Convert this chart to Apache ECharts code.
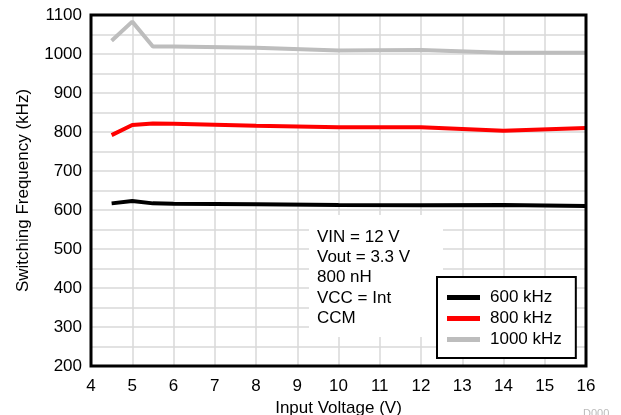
<!DOCTYPE html>
<html><head><meta charset="utf-8">
<script src="https://cdn.jsdelivr.net/npm/echarts@6/dist/echarts.min.js"></script>
<style>html,body{margin:0;padding:0;background:#fff}#c{width:621px;height:415px}</style>
</head><body><div id="c"></div>
<script>
const vin = [4.5, 5, 5.5, 6, 8, 10, 12, 14, 16];
const f600 = [617, 623, 617, 616, 615, 613, 612, 613, 610];
const f800 = [792, 818, 822, 821, 816, 812, 812, 803, 810];
const f1000 = [1034, 1083, 1019, 1019, 1016, 1009, 1010, 1003, 1003];
const seriesNames = ['600 kHz', '800 kHz', '1000 kHz'];
const colors = ['#000000', '#ff0000', '#bdbdbd'];
const noteLines = ['VIN = 12 V', 'Vout = 3.3 V', '800 nH', 'VCC = Int', 'CCM'];
const FONT = 'Liberation Sans, Arial, sans-serif';

const pairs = arr => vin.map((x, i) => [x, arr[i]]);
const chart = echarts.init(document.getElementById('c'));
chart.setOption({
  animation: false,
  textStyle: { fontFamily: FONT },
  grid: { left: 91, right: 35, top: 15, bottom: 49, show: true, borderColor: '#000', borderWidth: 3, z: 5,
          containLabel: false, outerBoundsMode: 'none' },
  xAxis: {
    type: 'value', min: 4, max: 16, interval: 1,
    name: 'Input Voltage (V)', nameLocation: 'middle', nameGap: 34,
    nameTextStyle: { fontSize: 17, color: '#000', fontFamily: FONT },
    axisLine: { show: false }, axisTick: { show: false },
    axisLabel: { fontSize: 17, color: '#000', margin: 12, fontFamily: FONT },
    splitLine: { show: true, lineStyle: { color: '#d9d9d9', width: 1.5 } }
  },
  yAxis: {
    type: 'value', min: 200, max: 1100, interval: 100,
    name: 'Switching Frequency (kHz)', nameLocation: 'middle', nameGap: 59,
    nameTextStyle: { fontSize: 17, color: '#000', fontFamily: FONT },
    axisLine: { show: false }, axisTick: { show: false },
    axisLabel: { fontSize: 17, color: '#000', margin: 9, fontFamily: FONT, formatter: v => String(v) },
    splitLine: { show: true, lineStyle: { color: '#d9d9d9', width: 1.5 } },
    minorTick: { show: false, splitNumber: 2 },
    minorSplitLine: { show: true, lineStyle: { color: '#d9d9d9', width: 1.5 } }
  },
  legend: {
    orient: 'vertical', left: 437, top: 277,
    backgroundColor: '#fff', borderColor: '#000', borderWidth: 2, borderRadius: 0,
    padding: [12, 14, 10, 10], itemGap: 4, itemWidth: 33, itemHeight: 5,
    icon: 'rect',
    textStyle: { fontSize: 17, color: '#000', fontFamily: FONT, padding: [0, 0, 0, 5] },
    data: seriesNames, z: 20
  },
  series: [f600, f800, f1000].map((d, i) => ({
    name: seriesNames[i], type: 'line', data: pairs(d),
    showSymbol: false, symbol: 'none', color: colors[i],
    lineStyle: { width: 4, color: colors[i] }, z: 3
  })),
  graphic: [
    { type: 'rect', left: 309, top: 215, shape: { width: 134, height: 122 }, style: { fill: '#fff' }, z: 1 },
    { type: 'text', left: 317, top: 227, style: { text: noteLines.join('\n'), font: '17px ' + FONT, fill: '#000', lineHeight: 20.3 }, z: 2 },
    { type: 'text', left: 583, top: 408, style: { text: 'D000', font: '11px ' + FONT, fill: '#bbb' }, z: 2 }
  ]
});
</script></body></html>
